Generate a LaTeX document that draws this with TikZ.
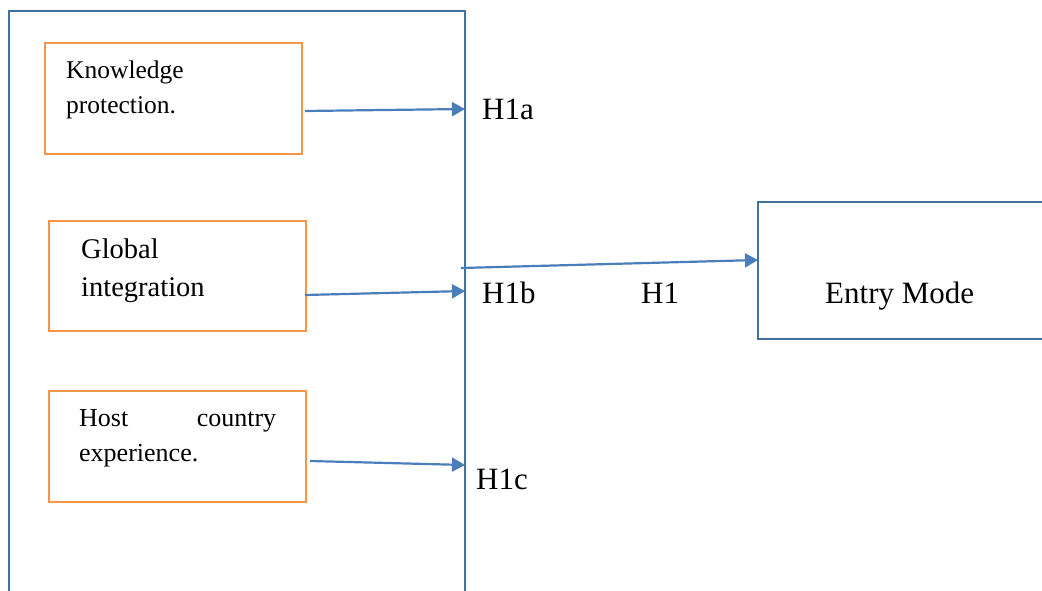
\documentclass[tikz,border=0pt]{standalone}
\usepackage{fontspec}
\setmainfont{Liberation Serif}
\usetikzlibrary{arrows.meta,calc}
\definecolor{frameblue}{HTML}{41719C}
\definecolor{arrowblue}{HTML}{4A7EBB}
\definecolor{boxorange}{HTML}{F79646}
\begin{document}
\begin{tikzpicture}[x=1pt,y=-1pt,
  obox/.style={draw=boxorange,line width=2.2pt,minimum width=#1,inner sep=0pt,anchor=north west},
  lbl/.style={inner sep=0pt,anchor=base west,font=\fontsize{31}{36}\selectfont},
  txt/.style={inner sep=0pt,anchor=north west,align=left},
  conn/.style={draw=arrowblue,line width=2.2pt,-{Triangle[length=13pt,width=14pt]}},
  frame/.style={draw=frameblue,line width=2pt}]
\useasboundingbox (0,0) rectangle (1042,591);
% big frame, open at bottom
\draw[frame] (9,592) -- (9,11) -- (465,11) -- (465,592);
% entry mode box, open at right
\draw[frame] (1043,202) -- (758,202) -- (758,339) -- (1043,339);
% orange boxes
\node[obox=257pt,minimum height=111pt] (k) at (44,42) {};
\node[obox=257pt,minimum height=110pt] (g) at (48,220) {};
\node[obox=257pt,minimum height=111pt] (h) at (48,390) {};
% texts
\node[txt,font=\fontsize{25.5}{35}\selectfont] (kt) at (66,61) {Knowledge\\protection.};
\node[txt,font=\fontsize{28.5}{38}\selectfont] (gt) at (81,239) {Global\\integration};
\node[txt,font=\fontsize{26}{35}\selectfont,text width=197pt] (ht) at (79,409) {Host\hfill country\\experience.};
% labels
\node[lbl] (h1a) at (482,120) {H1a};
\node[lbl] (h1b) at (482,303) {H1b};
\node[lbl] (h1) at (641,303) {H1};
\node[lbl] (h1c) at (476,489) {H1c};
\node[lbl] (em) at (825,303) {Entry Mode};
% connector points
\coordinate (k1) at (305,111);
\coordinate (k2) at (465,109);
\coordinate (g1) at (305,295);
\coordinate (g2) at (465,291);
\coordinate (c1) at (310,461);
\coordinate (c2) at (465,465);
\coordinate (m1) at (461,268);
\coordinate (m2) at (758,260);
\draw[conn] (k1) -- (k2);
\draw[conn] (g1) -- (g2);
\draw[conn] (c1) -- (c2);
\draw[conn] (m1) -- (m2);
\end{tikzpicture}
\end{document}
